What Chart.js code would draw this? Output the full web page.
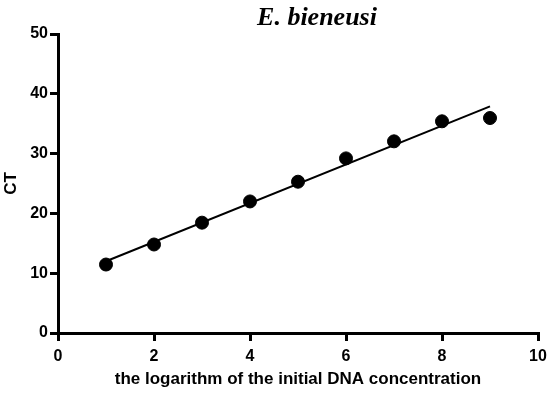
<!DOCTYPE html>
<html>
<head>
<meta charset="utf-8">
<script src="https://cdn.jsdelivr.net/npm/chart.js@4/dist/chart.umd.min.js"></script>
<style>
  html, body { margin: 0; padding: 0; background: #fff; }
  #wrap { width: 550px; height: 394px; }
</style>
</head>
<body>
<div id="wrap"><canvas id="ctChart" width="550" height="394"></canvas></div>
<script>
// data
const logConc = [1, 2, 3, 4, 5, 6, 7, 8, 9];
const ctValues = [11.45, 14.8, 18.45, 22.0, 25.3, 29.2, 32.05, 35.4, 35.95];

// fitted standard curve, drawn from x=1 to x=9
const fitX = [1, 9];
const fitY = [12.0, 37.9];

const xTicks = [0, 2, 4, 6, 8, 10];
const yTicks = [0, 10, 20, 30, 40, 50];

const chartTitle = "E. bieneusi";
const xTitle = "the logarithm of the initial DNA concentration";
const yTitle = "CT";

// title is drawn a bit right of centre, like the original figure
const titlePlugin = {
    id: "figTitle",
    afterDraw(chart) {
        const ctx = chart.ctx;
        ctx.save();
        ctx.font = "bold italic 26px 'Liberation Serif', 'DejaVu Serif', serif";
        ctx.fillStyle = "#000";
        ctx.textAlign = "center";
        ctx.textBaseline = "alphabetic";
        ctx.fillText(chartTitle, 317, 25);
        ctx.restore();
    }
};

const tickFont = { family: "'Liberation Sans', Arial, sans-serif", size: 16, weight: "bold" };
const titleFont = { family: "'Liberation Sans', Arial, sans-serif", size: 17, weight: "bold" };

new Chart(document.getElementById("ctChart"), {
    type: "scatter",
    data: {
        datasets: [
            {
                label: "CT",
                data: logConc.map((x, i) => ({ x: x, y: ctValues[i] })),
                backgroundColor: "#000",
                borderColor: "#000",
                pointRadius: 6.5,
                pointHoverRadius: 6.5,
                showLine: false
            },
            {
                label: "fit",
                data: fitX.map((x, i) => ({ x: x, y: fitY[i] })),
                borderColor: "#000",
                borderWidth: 2,
                pointRadius: 0,
                showLine: true,
                fill: false
            }
        ]
    },
    options: {
        responsive: false,
        animation: false,
        layout: { padding: { top: 34, right: 12, left: 0, bottom: 0 } },
        plugins: {
            legend: { display: false },
            tooltip: { enabled: false }
        },
        scales: {
            x: {
                type: "linear",
                min: 0,
                max: 10,
                afterBuildTicks(scale) { scale.ticks = xTicks.map(v => ({ value: v })); },
                afterFit(scale) {
                    scale.height = 61;
                    scale.paddingLeft = 0;
                    scale.paddingRight = 0;
                },
                ticks: { color: "#000", font: tickFont, padding: 6 },
                grid: { drawOnChartArea: false, drawTicks: true, tickLength: 8, lineWidth: 3, color: "#000" },
                border: { display: true, width: 3, color: "#000" },
                title: { display: true, text: xTitle, color: "#000", font: titleFont, padding: { top: 0, bottom: 4 } }
            },
            y: {
                type: "linear",
                min: 0,
                max: 50,
                afterBuildTicks(scale) { scale.ticks = yTicks.map(v => ({ value: v })); },
                afterFit(scale) { scale.width = 58; },
                ticks: { color: "#000", font: tickFont, padding: 2 },
                grid: { drawOnChartArea: false, drawTicks: true, tickLength: 8, lineWidth: 3, color: "#000" },
                border: { display: true, width: 3, color: "#000" },
                title: { display: true, text: yTitle, color: "#000", font: titleFont, padding: { top: 1, bottom: 0 } }
            }
        }
    },
    plugins: [titlePlugin]
});
</script>
</body>
</html>
